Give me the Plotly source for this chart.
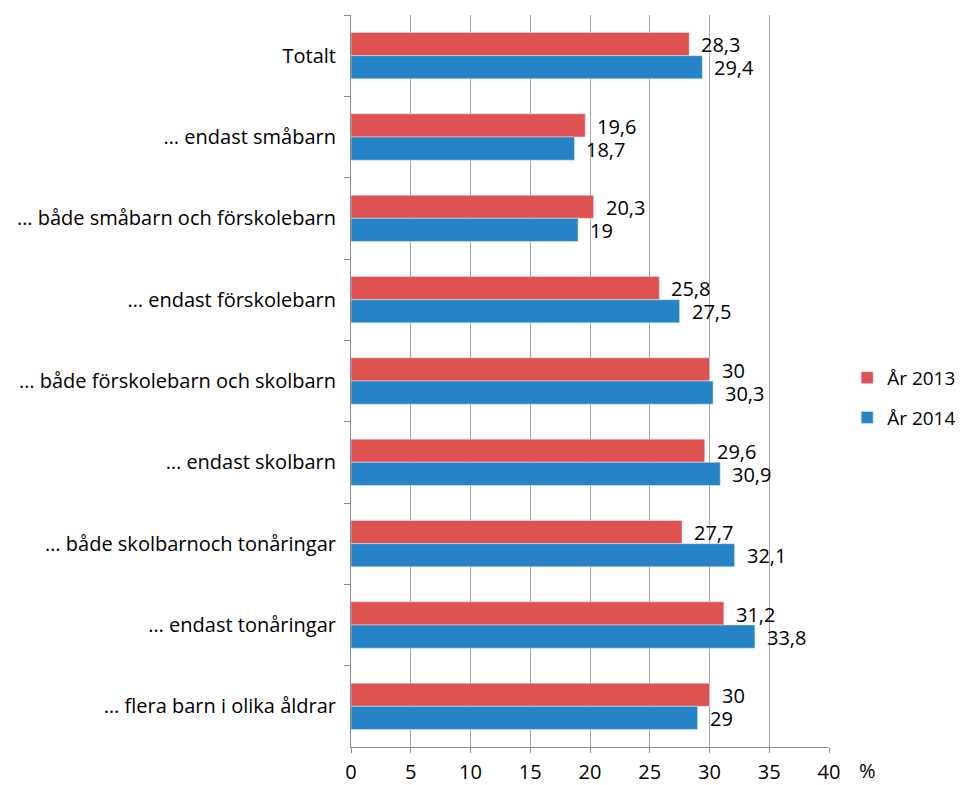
import plotly.graph_objects as go

categories = [
    "Totalt",
    "… endast småbarn",
    "… både småbarn och förskolebarn",
    "… endast förskolebarn",
    "… både förskolebarn och skolbarn",
    "… endast skolbarn",
    "… både skolbarnoch tonåringar",
    "… endast tonåringar",
    "… flera barn i olika åldrar",
]
ar_2013 = [28.3, 19.6, 20.3, 25.8, 30, 29.6, 27.7, 31.2, 30]
ar_2014 = [29.4, 18.7, 19, 27.5, 30.3, 30.9, 32.1, 33.8, 29]

RED = "#DF5252"
BLUE = "#2683C6"
FONT = "Open Sans, Arial"
FS = 20


def fmt(v):
    return f"{v:g}".replace(".", ",")


fig = go.Figure()
fig.add_trace(go.Bar(y=categories, x=ar_2013, orientation="h", name="År 2013",
                     marker_color=RED, legendgroup="a"))
fig.add_trace(go.Bar(y=categories, x=ar_2014, orientation="h", name="År 2014",
                     marker_color=BLUE, legendgroup="b"))

# value labels next to bar ends
for i, cat in enumerate(categories):
    fig.add_annotation(x=ar_2013[i], y=cat, text=fmt(ar_2013[i]), showarrow=False,
                       xanchor="left", xshift=10, yshift=11, font=dict(size=FS, color="black"))
    fig.add_annotation(x=ar_2014[i], y=cat, text=fmt(ar_2014[i]), showarrow=False,
                       xanchor="left", xshift=10, yshift=-12, font=dict(size=FS, color="black"))

fig.add_annotation(x=40, y=0, xref="x", yref="paper", text="%", showarrow=False,
                   xanchor="left", yanchor="middle", xshift=28, yshift=-23,
                   font=dict(size=FS, color="black"))

fig.update_layout(
    width=969, height=785,
    margin=dict(l=343, r=148, t=7, b=46, autoexpand=False),
    barmode="group", bargap=0.43, bargroupgap=0,
    plot_bgcolor="white", paper_bgcolor="white",
    font=dict(family=FONT, size=FS, color="black"),
    showlegend=True,
    legend=dict(x=1.038, y=0.477, xanchor="left", yanchor="middle",
                tracegroupgap=12, font=dict(size=19)),
    xaxis=dict(range=[0, 40], dtick=5, showgrid=True,
               gridcolor="#A6A6A6", gridwidth=1, showline=True, linecolor="#8C8C8C",
               ticks="outside", ticklen=5, tickcolor="#8C8C8C", zeroline=False,
               ticklabelstandoff=2),
    yaxis=dict(categoryorder="array", categoryarray=categories, autorange="reversed",
               showline=True, linecolor="#8C8C8C", ticks="outside", ticklen=6,
               tickcolor="#8C8C8C", tickson="boundaries", ticklabelstandoff=10),
)

fig.write_html("out.html")
